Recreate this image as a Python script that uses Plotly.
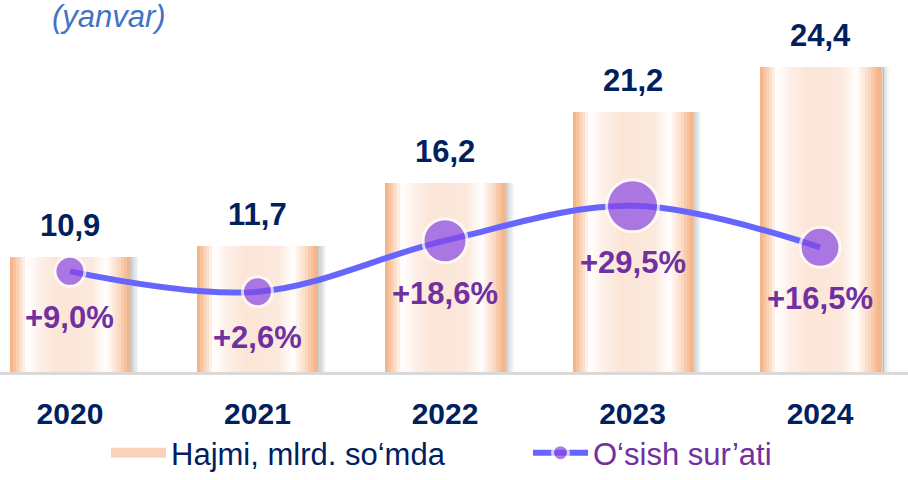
import plotly.graph_objects as go

# ---- data ----
years = ["2020", "2021", "2022", "2023", "2024"]
volume = [10.9, 11.7, 16.2, 21.2, 24.4]          # Hajmi, mlrd. so'mda
growth = [9.0, 2.6, 18.6, 29.5, 16.5]            # O'sish sur'ati, %

vol_text = [f"{v:.1f}".replace(".", ",") for v in volume]
gr_text = [f"+{g:.1f}%".replace(".", ",") for g in growth]

# ---- styles ----
FONT = "Liberation Sans, Arial, sans-serif"
NAVY = "#002060"
PURPLE = "#7030A0"
LINE_COL = "#6666FF"
marker_sizes = [30, 30, 44, 52, 40]

bar_stops = [
    (0.00, (244, 175, 128)),
    (0.05, (248, 200, 165)),
    (0.14, (255, 255, 255)),
    (0.25, (253, 240, 232)),
    (0.40, (251, 229, 214)),
    (0.68, (252, 233, 221)),
    (0.80, (255, 255, 255)),
    (0.91, (250, 216, 192)),
    (1.00, (244, 175, 128)),
]


def grad_color(t):
    for (p0, c0), (p1, c1) in zip(bar_stops[:-1], bar_stops[1:]):
        if p0 <= t <= p1:
            f = (t - p0) / (p1 - p0) if p1 > p0 else 0
            c = [round(a + (b - a) * f) for a, b in zip(c0, c1)]
            return f"rgb({c[0]},{c[1]},{c[2]})"
    return "rgb(244,175,128)"


x = list(range(len(years)))
W = 0.64
N = 40

fig = go.Figure()

# shadow on the right side of the bars
n_sh = 5
sh_w = 0.045
for k in range(n_sh):
    a = 0.30 * (1 - k / n_sh)
    fig.add_trace(go.Bar(
        x=x, y=volume, width=sh_w / n_sh * 1.05,
        offset=W / 2 + k * sh_w / n_sh,
        marker=dict(color=f"rgba(80,80,80,{a:.3f})", line=dict(width=0)),
        showlegend=False, hoverinfo="skip"))

# gradient bars drawn as thin vertical strips
for i in range(N):
    t = (i + 0.5) / N
    fig.add_trace(go.Bar(
        x=x, y=volume, width=W / N * 1.15,
        offset=-W / 2 + i * W / N,
        marker=dict(color=grad_color(t), line=dict(width=0)),
        showlegend=False, hoverinfo="skip"))

# legend entry for bars
fig.add_trace(go.Scatter(
    x=[None], y=[None], mode="lines",
    line=dict(color="rgb(249,210,184)", width=18),
    name="Hajmi, mlrd. so‘mda", legend="legend"))

# growth line
fig.add_trace(go.Scatter(
    x=x, y=growth, yaxis="y2", mode="lines+markers",
    line=dict(color=LINE_COL, width=6, shape="spline", smoothing=1),
    marker=dict(size=marker_sizes, color="#8848E6",
                line=dict(color="white", width=3)),
    cliponaxis=False,
    name="O‘sish sur’ati", legend="legend2"))

annotations = []
for xi, v, t in zip(x, volume, vol_text):
    annotations.append(dict(
        x=xi, y=v, xref="x", yref="y", text=t, showarrow=False,
        yanchor="bottom", yshift=12,
        font=dict(family=FONT, size=31, color=NAVY, weight="bold")))

for xi, g, t, s in zip(x, growth, gr_text, marker_sizes):
    annotations.append(dict(
        x=xi, y=g, xref="x", yref="y2", text=t, showarrow=False,
        yanchor="middle", yshift=-(s / 2 + 31),
        font=dict(family=FONT, size=31, color=PURPLE, weight="bold")))

annotations.append(dict(
    x=50 / 908, y=1, xref="paper", yref="paper", text="(yanvar)",
    showarrow=False, xanchor="left", yanchor="top", yshift=3,
    font=dict(family=FONT, size=31, color="#4472C4", style="italic")))

leg_y = -108 / 372  # bottom edge of the page in paper units

fig.update_layout(
    width=908, height=480,
    margin=dict(l=0, r=0, t=0, b=108, autoexpand=False),
    paper_bgcolor="white", plot_bgcolor="white",
    barmode="overlay", bargap=0,
    xaxis=dict(range=[-0.373, 4.469], tickmode="array", tickvals=x,
               ticktext=years, showline=True, linecolor="#D9D9D9",
               linewidth=3, showgrid=False, zeroline=False,
               ticks="", ticklabelstandoff=13, automargin=False,
               tickfont=dict(family=FONT, size=30, color=NAVY, weight="bold")),
    yaxis=dict(range=[2.77, 29.17], visible=False, showgrid=False,
               zeroline=False, automargin=False),
    yaxis2=dict(range=[-22.5, 93.9], overlaying="y", visible=False,
                showgrid=False, zeroline=False, automargin=False),
    legend=dict(x=106 / 908, y=leg_y, xanchor="left", yanchor="bottom",
                orientation="h", itemwidth=55, bgcolor="rgba(0,0,0,0)",
                font=dict(family=FONT, size=31, color=NAVY)),
    legend2=dict(x=528 / 908, y=leg_y, xanchor="left", yanchor="bottom",
                 orientation="h", itemwidth=55, bgcolor="rgba(0,0,0,0)",
                 font=dict(family=FONT, size=31, color=PURPLE)),
    annotations=annotations,
    showlegend=True,
)

fig.write_html("out.html",
               config={"displayModeBar": False},
               post_script="document.body.style.margin='0px';"
                           "document.body.style.padding='0px';")
